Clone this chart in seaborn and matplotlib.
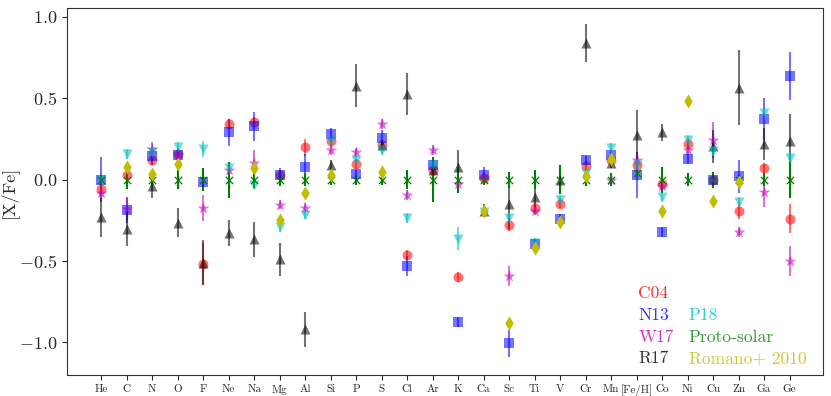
import numpy as np
import pandas as pd
import matplotlib
matplotlib.use("Agg")
import matplotlib.pyplot as plt
import seaborn as sns
from matplotlib.lines import Line2D

nan = np.nan

elements = ['He', 'C', 'N', 'O', 'F', 'Ne', 'Na', 'Mg', 'Al', 'Si', 'P', 'S', 'Cl', 'Ar',
            'K', 'Ca', 'Sc', 'Ti', 'V', 'Cr', 'Mn', '[Fe/H]', 'Co', 'Ni', 'Cu', 'Zn', 'Ga', 'Ge']

# [X/Fe] values, one list per data set (nan = not shown)
c04 = [-0.055, 0.026, 0.118, 0.16, -0.52, 0.34, 0.355, 0.03, 0.198, 0.235, 0.096, 0.21, -0.465, 0.06,
       -0.598, 0.01, -0.278, -0.171, -0.147, 0.082, 0.12, 0.09, -0.025, 0.218, 0.0, -0.19, 0.073, -0.24]
c04_err = [0.03, 0.03, 0.03, 0.03, 0.13, 0.03, 0.03, 0.03, 0.05, 0.03, 0.03, 0.03, 0.03, 0.03,
           0.03, 0.03, 0.04, 0.03, 0.03, 0.03, 0.03, 0.03, 0.03, 0.03, 0.03, 0.05, 0.03, 0.09]

n13 = [0.0, -0.184, 0.143, 0.15, -0.016, 0.29, 0.327, 0.03, 0.078, 0.28, 0.037, 0.253, -0.53, 0.09,
       -0.873, 0.03, -1.006, -0.394, -0.24, 0.118, 0.15, 0.03, -0.32, 0.128, 0.0, 0.02, 0.371, 0.637]
n13_err = [0.14, 0.08, 0.05, 0.04, 0.03, 0.085, 0.09, 0.04, 0.08, 0.04, 0.02, 0.05, 0.06, 0.04,
           0.03, 0.05, 0.085, 0.03, 0.03, 0.03, 0.03, 0.14, 0.03, 0.03, 0.05, 0.1, 0.13, 0.15]

w17 = [-0.08, -0.18, 0.19, 0.15, -0.175, 0.057, 0.10, -0.153, -0.173, 0.184, 0.167, 0.343, -0.092, 0.184,
       -0.025, 0.01, -0.592, -0.19, nan, nan, 0.0, 0.122, -0.04, 0.184, 0.245, -0.32, -0.076, -0.5]
w17_err = [0.03, 0.07, 0.04, 0.03, 0.08, 0.03, 0.08, 0.03, 0.03, 0.03, 0.03, 0.03, 0.03, 0.03,
           0.03, 0.03, 0.06, 0.03, 0.03, 0.03, 0.03, 0.03, 0.03, 0.03, 0.11, 0.03, 0.09, 0.09]

r17 = [-0.23, -0.30, -0.04, -0.265, -0.51, -0.327, -0.367, -0.49, -0.92, 0.09, 0.578, 0.216, 0.527, 0.06,
       0.075, -0.19, -0.15, -0.106, 0.0, 0.84, 0.1, 0.276, 0.29, nan, 0.204, 0.565, 0.22, 0.235]
r17_err = [0.12, 0.11, 0.07, 0.09, 0.14, 0.08, 0.11, 0.1, 0.11, 0.03, 0.13, 0.03, 0.13, 0.03,
           0.11, 0.04, 0.15, 0.06, 0.09, 0.115, 0.03, 0.15, 0.055, 0.03, 0.1, 0.23, 0.1, 0.17]

p18 = [0.0, 0.157, 0.167, 0.2, 0.19, 0.07, -0.03, -0.29, -0.214, 0.235, 0.122, 0.18, -0.235, 0.09,
       -0.363, -0.2, -0.235, -0.39, -0.122, 0.04, 0.194, 0.09, -0.106, 0.245, 0.178, -0.139, 0.408, 0.135]
p18_err = [0.03, 0.03, 0.03, 0.03, 0.05, 0.03, 0.03, 0.03, 0.03, 0.03, 0.03, 0.03, 0.03, 0.03,
           0.07, 0.03, 0.03, 0.03, 0.03, 0.03, 0.03, 0.03, 0.03, 0.03, 0.03, 0.03, 0.03, 0.03]

proto = [0.0] * 21 + [0.04] + [0.0] * 6
proto_err = [0.03, 0.06, 0.04, 0.06, 0.07, 0.11, 0.05, 0.04, 0.04, 0.03, 0.03, 0.03, 0.06, 0.14,
             0.08, 0.03, 0.05, 0.06, 0.09, 0.04, 0.04, 0.01, 0.08, 0.04, 0.05, 0.03, 0.04, 0.11]

romano = [nan, 0.08, 0.035, 0.096, nan, nan, 0.07, -0.245, -0.082, 0.026, nan, 0.05, nan, nan,
          nan, -0.19, -0.878, -0.418, -0.26, 0.02, 0.128, nan, -0.194, 0.486, -0.128, -0.016, nan, nan]
romano_err = [0.02] * 23 + [0.03] + [0.02] * 4

series = [
    ('C04', c04, c04_err, 'r', 'o', 0.55),
    ('N13', n13, n13_err, 'b', 's', 0.55),
    ('W17', w17, w17_err, 'm', '*', 0.55),
    ('R17', r17, r17_err, 'k', '^', 0.55),
    ('P18', p18, p18_err, 'c', 'v', 0.55),
    ('Proto-solar', proto, proto_err, 'g', 'x', 1.0),
    ('Romano+ 2010', romano, romano_err, 'y', 'd', 1.0),
]

sns.set_style('ticks')
plt.rcParams['font.family'] = 'serif'
plt.rcParams['font.serif'] = ['cmr10']
plt.rcParams['mathtext.fontset'] = 'cm'
plt.rcParams['axes.formatter.use_mathtext'] = True

fig, ax = plt.subplots(figsize=(8.31, 3.96), dpi=100)
fig.subplots_adjust(left=0.081, right=0.990, top=0.98, bottom=0.053)

xpos = np.arange(len(elements))
for name, vals, errs, col, mk, a in series:
    df = pd.DataFrame({'x': xpos, 'y': vals, 'err': errs}).dropna()
    ax.errorbar(df['x'], df['y'], yerr=df['err'], fmt='none', ecolor=col, alpha=a, elinewidth=1.5)
    if mk == 'x':
        sns.scatterplot(data=df, x='x', y='y', marker='x', color=col, s=28,
                        linewidth=0.9, ax=ax, zorder=3)
    else:
        size = 80 if mk == '*' else 52
        sns.scatterplot(data=df, x='x', y='y', marker=mk, color=col, alpha=a, s=size,
                        linewidth=0, ax=ax, zorder=3)

ax.set_xticks(xpos)
ax.set_xticklabels(elements, fontsize=8)
ax.set_xlim(-1.33, 28.3)
ax.set_ylim(-1.2, 1.055)
ax.set_yticks([-1.0, -0.5, 0.0, 0.5, 1.0])
ax.tick_params(axis='y', labelsize=13)
ax.set_xlabel('')
ax.set_ylabel('[X/Fe]', fontsize=13)
ax.yaxis.set_label_coords(-0.066, 0.5)
for sp in ax.spines.values():
    sp.set_color('#333333')

# legend: coloured text only, two columns with an empty slot
labels = ['C04', 'N13', 'W17', 'R17', '', 'P18', 'Proto-solar', 'Romano+ 2010']
colors = ['r', 'b', 'm', 'k', 'w', 'c', 'g', 'y']
handles = [Line2D([], [], linestyle='none') for _ in labels]
leg = ax.legend(handles, labels, ncol=2, loc='lower right', frameon=False, fontsize=12.6,
                handlelength=0, handletextpad=0, columnspacing=0.85, labelspacing=0.36,
                borderaxespad=0.1, bbox_to_anchor=(0.99, 0.0))
for t, c in zip(leg.get_texts(), colors):
    t.set_color(c)
    t.set_alpha(0.8)

plt.savefig('out.png', dpi=100)
